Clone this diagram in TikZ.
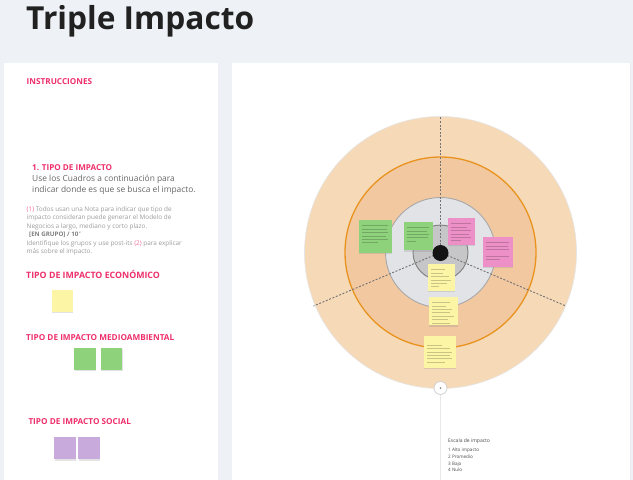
\documentclass[tikz,border=0pt]{standalone}
\usepackage{fontspec}
\setmainfont{Open Sans}
\usetikzlibrary{shadows}
\definecolor{bg}{HTML}{EEF2F6}
\definecolor{pinkt}{HTML}{EE2F6C}
\definecolor{graytxt}{HTML}{666666}
\definecolor{lighttxt}{HTML}{9C9C9C}
\definecolor{peachout}{HTML}{F6D9B6}
\definecolor{peachin}{HTML}{F2C8A1}
\definecolor{orangeline}{HTML}{E9931F}
\definecolor{grayc}{HTML}{E2E3E6}
\definecolor{graycs}{HTML}{A8A8AA}
\definecolor{grayin}{HTML}{C6C6C8}
\definecolor{grayins}{HTML}{7F7F7F}
\definecolor{noteG}{HTML}{8FD27C}
\definecolor{noteP}{HTML}{EE90C8}
\definecolor{noteY}{HTML}{FDF5A6}
\definecolor{noteV}{HTML}{C9AADC}
\newcommand\notelines[3]{%
  \foreach \i/\f in {#2} {
    \draw[noteline] ([xshift=3.5pt,yshift={-(2.5+3.4*\i)*1pt}]#1.north west) -- ++({#3*\f},0);
  }}
\begin{document}
\begin{tikzpicture}[x=1pt,y=-1pt,
  txt/.style={anchor=base west, inner sep=0pt},
  pinkhead/.style={txt, text=pinkt, font=\bfseries\fontsize{8.2}{10}\selectfont},
  smalltxt/.style={txt, text=lighttxt, font=\fontsize{6.4}{7.5}\selectfont},
  scaletxt/.style={txt, text=black!70, font=\fontsize{4.6}{5.5}\selectfont},
  note/.style={inner sep=0pt, draw=none, drop shadow={shadow xshift=0.4pt, shadow yshift=-1.3pt, opacity=0.22}},
  noteline/.style={draw=black, line width=0.45pt, opacity=0.2},
  dashline/.style={draw=black!55, line width=0.9pt, dash pattern=on 2pt off 1.6pt}]
\useasboundingbox (0,0) rectangle (633,480);
\fill[bg] (0,0) rectangle (633,480);
% title
\node[txt, font=\bfseries\fontsize{31.7}{38}\selectfont, text=black!87] (title) at (26,29) {Triple Impacto};
% panels
\fill[white] (4,63) rectangle (218,480);
\fill[white] (232,63) rectangle (630,480);
\draw[black!8, line width=0.6pt] (630,63) -- (630,480);
% left panel texts
\node[pinkhead] (instr) at (26.5,84) {INSTRUCCIONES};
\node[pinkhead, font=\bfseries\fontsize{8.1}{10}\selectfont] (tipo) at (32,170) {1. TIPO DE IMPACTO};
\node[txt, text=graytxt, font=\fontsize{8.4}{10}\selectfont] (use1) at (32,181.5) {Use los Cuadros a continuación para};
\node[txt, text=graytxt, font=\fontsize{8.4}{10}\selectfont] (use2) at (32,192.5) {indicar donde es que se busca el impacto.};
\node[smalltxt] (s1) at (26.5,211) {\textcolor{pinkt!70}{(1)} Todos usan una Nota para indicar que tipo de};
\node[smalltxt] (s2) at (26.5,219.5) {impacto consideran puede generar el Modelo de};
\node[smalltxt] (s3) at (26.5,228) {Negocios a largo, mediano y corto plazo.};
\node[smalltxt, font=\bfseries\fontsize{6.2}{7}\selectfont, text=black!50] (s4) at (29,236.5) {[EN GRUPO] / 10\,'};
\node[smalltxt] (s5) at (26.5,245) {Identifique los grupos y use post-its \textcolor{pinkt!70}{(2)} para explicar};
\node[smalltxt] (s6) at (26.5,253.5) {más sobre el impacto.};
\node[pinkhead, font=\bfseries\fontsize{8.8}{10}\selectfont] (eco) at (26,278.5) {TIPO DE IMPACTO ECONÓMICO};
\node[note, fill=noteY, minimum width=21pt, minimum height=21.5pt] (ye) at (62.2,300.8) {};
\node[pinkhead] (med) at (26,340) {TIPO DE IMPACTO MEDIOAMBIENTAL};
\node[note, fill=noteG, minimum width=21.5pt, minimum height=22pt] (ge1) at (84.9,359) {};
\node[note, fill=noteG, minimum width=21.5pt, minimum height=22pt] (ge2) at (111.5,359) {};
\node[pinkhead] (soc) at (28.3,424.5) {TIPO DE IMPACTO SOCIAL};
\node[note, fill=noteV, minimum width=21.5pt, minimum height=22.5pt] (pv1) at (65.2,448) {};
\node[note, fill=noteV, minimum width=21.5pt, minimum height=22.5pt] (pv2) at (89.2,448) {};
% target diagram
\coordinate (c) at (440.5,252.5);
\coordinate (top) at (440.5,117);
\coordinate (dl) at (313.5,306);
\coordinate (dr) at (566,306);
\draw[fill=peachout, draw=black!10, line width=0.6pt] (c) circle (136);
\fill[peachin] (c) circle (95.5);
\draw[orangeline, line width=1.3pt] (c) circle (95.5);
\draw[fill=grayc, draw=graycs, line width=0.9pt] (c) circle (55);
\draw[fill=grayin, draw=grayins, line width=0.9pt] (c) circle (27.5);
\draw[dashline] (c) -- (top);
\draw[dashline] (c) -- (dl);
\draw[dashline] (c) -- (dr);
\fill[black!92] (440.5,253) circle (8);
% notes on diagram
\node[note, fill=noteG, minimum width=33pt, minimum height=33pt] (n1) at (375.5,236.5) {};
\notelines{n1}{1/1,2/0.95,3/1,4/0.9,5/1,6/0.6}{26}
\node[note, fill=noteG, minimum width=29pt, minimum height=28.5pt] (n2) at (418.5,236) {};
\notelines{n2}{1/1,2/0.9,3/1,4/0.95,5/0.4}{22}
\node[note, fill=noteP, minimum width=27pt, minimum height=27pt] (n3) at (461.5,231.5) {};
\notelines{n3}{1/1,2/0.8,3/1,4/0.9,5/1,6/0.5}{20}
\node[note, fill=noteP, minimum width=30pt, minimum height=30pt] (n4) at (498,252) {};
\notelines{n4}{1/1,2/0.95,3/1,5/1,6/0.6}{23}
\node[note, fill=noteY, minimum width=27pt, minimum height=27pt] (n5) at (441.5,277.5) {};
\notelines{n5}{1/0.7,2/0.6,3/0.9,4/1,5/0.8,6/0.4}{20}
\node[note, fill=noteY, minimum width=29pt, minimum height=28.5pt] (n6) at (443.5,311) {};
\notelines{n6}{1/0.8,2/0.6,3/0.9,4/0.8,5/1,6/0.7,7/0.8}{22}
\node[note, fill=noteY, minimum width=32pt, minimum height=32pt] (n7) at (440,352) {};
\notelines{n7}{2/0.6,3/0.9,4/1,5/0.9,6/1,7/0.7}{25}
% bottom handle + line
\node[circle, draw=black!18, fill=white, line width=0.8pt, minimum size=13pt, inner sep=0pt] (hnd) at (440.5,388) {};
\fill[black!45] (hnd.center) circle (1);
\coordinate (lineend) at (440.5,480);
\draw[black!9, line width=1.6pt] (hnd.south) -- (lineend);
% scale text
\node[scaletxt, font=\fontsize{5}{6}\selectfont] (esc) at (448,442) {Escala de impacto};
\node[scaletxt] (e1) at (448,451) {1 Alto impacto};
\node[scaletxt] (e2) at (448,458) {2 Promedio};
\node[scaletxt] (e3) at (448,465) {3 Bajo};
\node[scaletxt] (e4) at (448,471.5) {4 Nulo};
\end{tikzpicture}
\end{document}
